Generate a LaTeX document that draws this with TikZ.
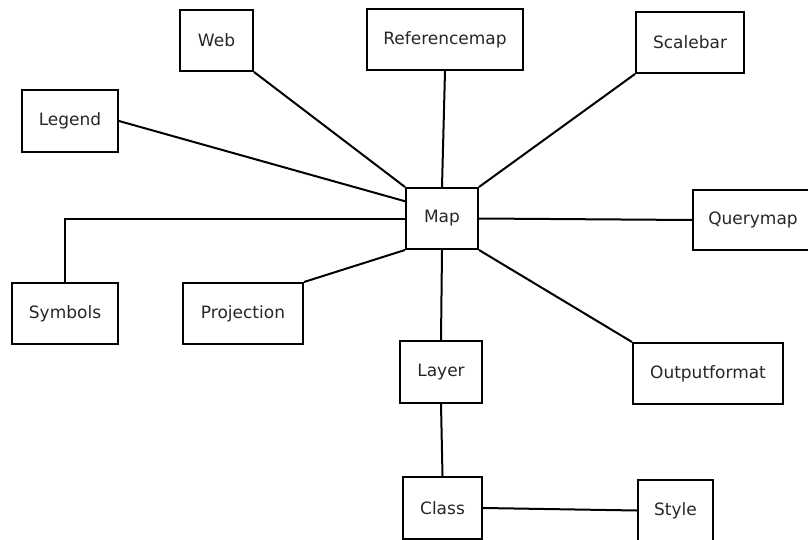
\documentclass[tikz,border=0pt]{standalone}
\usepackage{fontspec}
\setmainfont{DejaVu Sans}
\usepackage{tikz}
\tikzstyle{box}=[draw, line width=2pt, text=black!85, font=\fontsize{17}{20}\selectfont, inner sep=0pt]
\tikzstyle{link}=[line width=2pt]

\begin{document}
\begin{tikzpicture}[x=1pt, y=-1pt]
		   \useasboundingbox (0, 0) rectangle (808, 540);
		   \clip (0, 0) rectangle (808, 540);
		   \begin{scope}
			   \node (map) at (442, 218.5)[box, minimum width=72, minimum height=61] {Map};
			   \node (web) at (216.5, 40.5)[box, minimum width=73, minimum height=61] {Web};
			   \node (ref) at (445, 39.5)[box, minimum width=156, minimum height=61] {Referencemap};
			   \node (scale) at (690, 42.5)[box, minimum width=108, minimum height=61] {Scalebar};
			   \node (leg) at (70, 121)[box, minimum width=96, minimum height=62] {Legend};
			   \node (query) at (753, 220)[box, minimum width=120, minimum height=60] {Querymap};
			   \node (sym) at (65, 313.5)[box, minimum width=106, minimum height=61] {Symbols};
			   \node (proj) at (243, 313.5)[box, minimum width=120, minimum height=61] {Projection};
			   \node (lay) at (441, 372)[box, minimum width=82, minimum height=62] {Layer};
			   \node (out) at (708, 373.5)[box, minimum width=150, minimum height=61] {Outputformat};
			   \node (cls) at (442.5, 508)[box, minimum width=79, minimum height=62] {Class};
			   \node (sty) at (675.5, 510.5)[box, minimum width=75, minimum height=61] {Style};
		   \end{scope}
		   \begin{scope}[link]
			   \path [-] (web.south east) edge (map.north west);
			   \path [-] (leg.east) edge (map.155);
			   \path [-] (ref.south) edge (map.north);
			   \path [-] (scale.south west) edge (map.north east);
			   \path [-] (map.east) edge (query.west);
			   \draw (sym.north) |- (map.west);
			   \path [-] (proj.north east) edge (map.south west);
			   \path [-] (map.south east) edge (out.north west);
			   \path [-] (map.south) edge (lay.north);

			   \path [-] (lay.south) edge (cls.north);
			   \path [-] (cls.east) edge (sty.west);
		   \end{scope}
	   \end{tikzpicture}
\end{document}
